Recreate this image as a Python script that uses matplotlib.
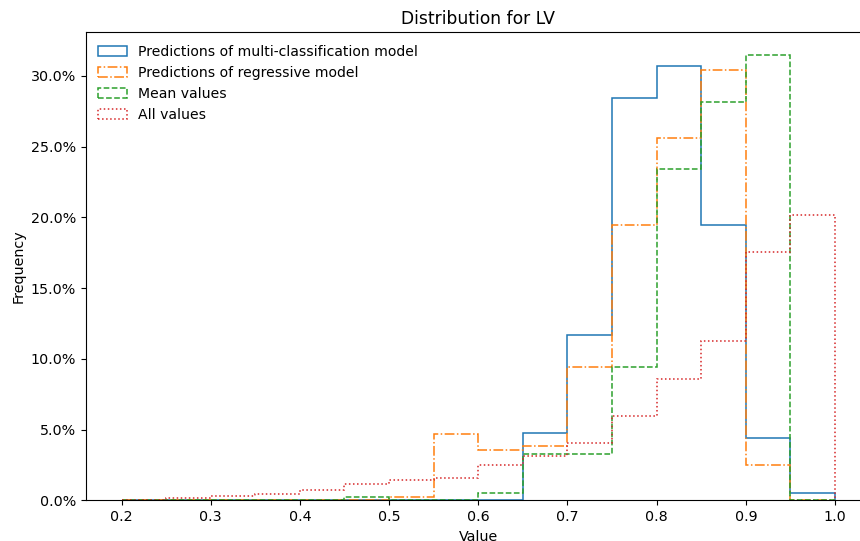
import matplotlib
matplotlib.use("Agg")
import matplotlib.pyplot as plt
import numpy as np
from matplotlib.ticker import PercentFormatter

plt.rcParams["font.size"] = 10.3

# bords des classes (largeur 0.05)
bords = [0.2, 0.25, 0.3, 0.35, 0.4, 0.45, 0.5, 0.55, 0.6, 0.65, 0.7, 0.75, 0.8, 0.85, 0.9, 0.95, 1.0]

# frequences (en %)
multi_classif = [0, 0, 0, 0, 0, 0, 0, 0, 0, 4.74, 11.68, 28.43, 30.67, 19.5, 4.41, 0.52]
regressif = [0, 0, 0, 0, 0, 0, 0.23, 4.69, 3.58, 3.85, 9.46, 19.5, 25.64, 30.4, 2.48, 0]
moyennes = [0, 0, 0, 0, 0, 0.23, 0, 0, 0.52, 3.3, 3.3, 9.46, 23.42, 28.19, 31.5, 0]
toutes = [0.05, 0.14, 0.3, 0.42, 0.71, 1.18, 1.46, 1.56, 2.52, 3.16, 4.06, 5.97, 8.56, 11.25, 17.55, 20.19]

centres = [(bords[i] + bords[i + 1]) / 2 for i in range(len(bords) - 1)]

fig = plt.figure(figsize=(8.6, 5.41), dpi=100)
# l'axe droit depasse du cadre comme sur l'original
ax = fig.add_axes([0.0998, 0.075, 0.9127, 0.865])

ax.hist(centres, bins=bords, weights=np.array(multi_classif) / 100, histtype="step",
        linestyle="-", color="tab:blue", linewidth=1.1, label="Predictions of multi-classification model")
ax.hist(centres, bins=bords, weights=np.array(regressif) / 100, histtype="step",
        linestyle="-.", color="tab:orange", linewidth=1.1, label="Predictions of regressive model")
ax.hist(centres, bins=bords, weights=np.array(moyennes) / 100, histtype="step",
        linestyle="--", color="tab:green", linewidth=1.1, label="Mean values")
ax.hist(centres, bins=bords, weights=np.array(toutes) / 100, histtype="step",
        linestyle=":", color="tab:red", linewidth=1.1, label="All values")

ax.spines["right"].set_visible(False)
ax.yaxis.set_major_formatter(PercentFormatter(xmax=1, decimals=1))
ax.set_title("Distribution for LV")
ax.set_xlabel("Value")
ax.set_ylabel("Frequency")
ax.legend(loc="upper left", frameon=False, fontsize=10.1)

fig.savefig("out.png", dpi=100)
